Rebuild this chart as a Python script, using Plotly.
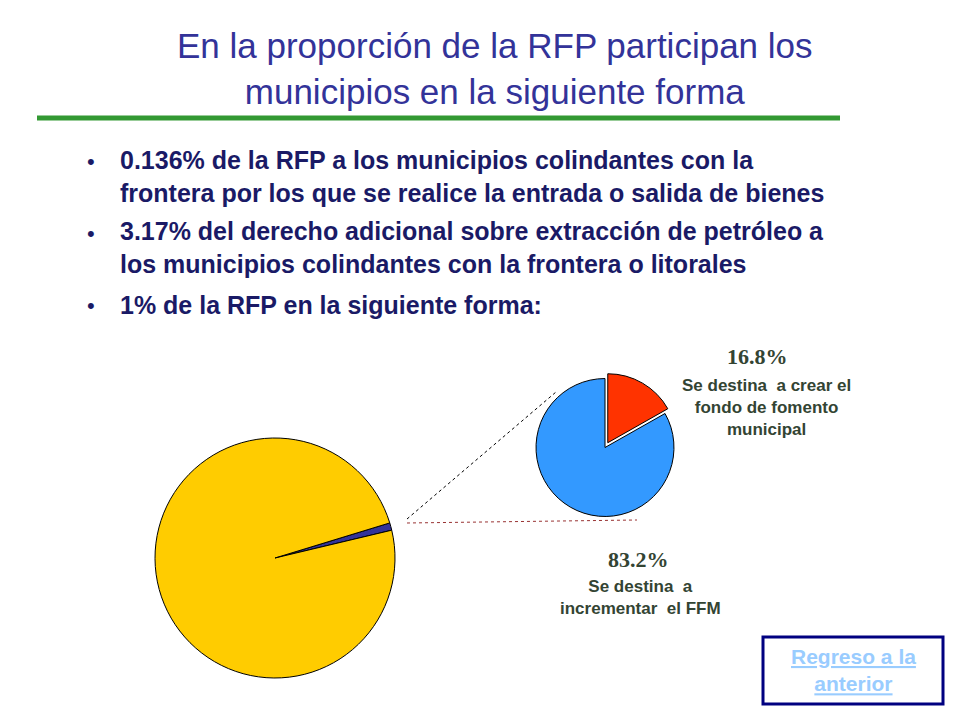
import plotly.graph_objects as go

big_labels = ["1% RFP", "Resto"]
big_values = [1, 99]
small_labels = ["Se destina a crear el fondo de fomento municipal", "Se destina a incrementar el FFM"]
small_values = [16.8, 83.2]

W, H = 960, 720
def px(x): return (x - 8) / W
def py(y): return 1 - (y - 8) / H

fig = go.Figure()
fig.add_trace(go.Pie(labels=big_labels, values=big_values, sort=False, direction="clockwise",
                     rotation=73, textinfo="none", hoverinfo="label+percent",
                     marker=dict(colors=["#333399", "#FFCC00"], line=dict(color="black", width=1)),
                     domain=dict(x=[px(155), px(395)], y=[py(678), py(438)]), showlegend=False))
fig.add_trace(go.Pie(labels=small_labels, values=small_values, sort=False, direction="clockwise",
                     rotation=0, textinfo="none", pull=[0.08, 0],
                     marker=dict(colors=["#FF3300", "#3399FF"], line=dict(color="black", width=1)),
                     domain=dict(x=[px(520), px(690)], y=[py(522), py(373)]), showlegend=False))

shapes = [
    dict(type="line", xref="paper", yref="paper", x0=px(37), x1=px(840), y0=py(118), y1=py(118),
         line=dict(color="#339933", width=5)),
    dict(type="line", xref="paper", yref="paper", x0=px(407), x1=px(556), y0=py(519), y1=py(392),
         line=dict(color="black", width=1, dash="dot")),
    dict(type="line", xref="paper", yref="paper", x0=px(407), x1=px(637), y0=py(523), y1=py(520),
         line=dict(color="#993333", width=1, dash="dot")),
    dict(type="rect", xref="paper", yref="paper", x0=px(763), x1=px(943), y0=py(704), y1=py(637),
         line=dict(color="#000080", width=3)),
]

navy = "#1a1a66"
ann = []
def t(x, y, s, size, color, bold=False, align="center", xanchor="center", family="Arial", underline=False):
    if bold: s = "<b>" + s + "</b>"
    if underline: s = "<u>" + s + "</u>"
    ann.append(dict(x=px(x), y=py(y), xref="paper", yref="paper", text=s, showarrow=False,
                    xanchor=xanchor, yanchor="middle", align=align,
                    font=dict(size=size, color=color, family=family)))

t(495, 68, "En la proporción de la RFP participan los<br>municipios en la siguiente forma", 35, "#333399")
bul = [(176, "0.136% de la RFP a los municipios colindantes con la<br>frontera por los que se realice la entrada o salida de bienes"),
       (248, "3.17% del derecho adicional sobre extracción de petróleo a<br>los municipios colindantes con la frontera o litorales"),
       (305, "1% de la RFP en la siguiente forma:")]
for y, s in bul:
    t(85, y - 15 if "<br>" in s else y, "•", 22, navy, xanchor="left")
    t(118, y, s, 25, navy, bold=True, align="left", xanchor="left")
lab = "#334433"
t(757, 356, "16.8%", 22, lab, bold=True, family="Times New Roman")
t(766, 407, "Se destina  a crear el<br>fondo de fomento<br>municipal", 17, lab, bold=True)
t(638, 559, "83.2%", 22, lab, bold=True, family="Times New Roman")
t(640, 597, "Se destina  a<br>incrementar  el FFM", 17, lab, bold=True)
t(853, 670, "Regreso a la<br>anterior", 21, "#99CCFF", bold=True, underline=True)

fig.update_layout(width=W, height=H, margin=dict(l=0, r=0, t=0, b=0),
                  paper_bgcolor="white", plot_bgcolor="white",
                  shapes=shapes, annotations=ann, font=dict(family="Arial"))
fig.write_html("out.html")
